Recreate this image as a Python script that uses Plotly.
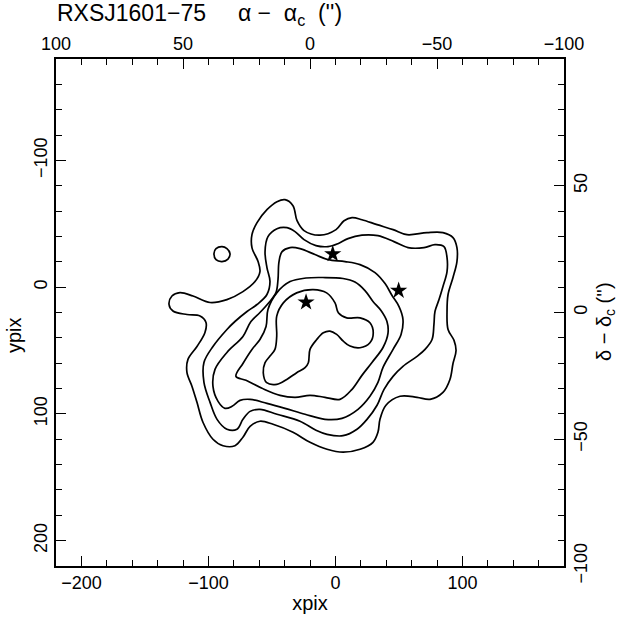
import plotly.graph_objects as go

# contour levels, in detector pixels (xpix, ypix)
level1_x = [-39.7, -33.4, -30.2, -24.7, -12.1, 0.5, 6.8, 13.1, 20.9, 32.8, 45.4, 56.4, 72.1, 84.7,
            92.6, 95.7, 95.7, 92.6, 88.7, 87.9, 88.7, 93.4, 95.0, 92.6, 90.2, 84.7, 74.5, 64.3,
            50.9, 39.8, 35.1, 33.5, 29.6, 19.4, 6.0, -6.6, -20.0, -33.4, -49.1, -59.4, -67.2,
            -72.8, -79.1, -88.5, -96.4, -104.3, -109.0, -112.9, -116.9, -116.1, -109.0, -102.7,
            -101.9, -106.6, -116.9, -127.9, -131.0, -128.7, -122.4, -112.1, -98.7, -85.4, -72.8,
            -63.3, -59.4, -60.9, -65.7, -65.7, -61.7, -53.9, -46.0]
level1_y = [-69.0, -64.3, -52.4, -44.6, -41.0, -45.4, -52.4, -54.8, -53.2, -49.3, -45.4, -41.4,
            -43.0, -43.0, -39.1, -31.2, -20.2, -7.6, 5.8, 19.2, 33.4, 42.0, 49.9, 60.2, 72.8, 83.0,
            88.5, 86.9, 86.1, 93.2, 104.3, 114.5, 122.4, 127.9, 130.2, 127.9, 122.4, 114.5, 108.2,
            105.8, 109.8, 118.4, 125.1, 125.1, 120.0, 106.6, 90.9, 78.3, 67.2, 57.0, 46.8, 35.7,
            27.9, 22.8, 21.6, 18.8, 13.7, 7.0, 4.3, 7.0, 12.1, 9.8, 3.5, -4.4, -12.3, -20.2,
            -31.2, -41.4, -50.9, -61.1, -67.4]

island_x = [-95.6, -94.0, -89.3, -85.4, -83.0, -84.6, -89.3, -94.0]
island_y = [-26.5, -30.4, -32.0, -30.4, -26.5, -22.1, -20.2, -21.7]

level2_x = [-55.4, -53.1, -46.0, -38.1, -31.8, -24.7, -15.3, -5.8, 2.0, 9.9, 20.9, 33.5, 46.1,
            57.2, 69.8, 78.4, 85.5, 87.9, 87.9, 84.7, 81.6, 78.4, 77.6, 76.1, 70.6, 64.3, 53.2,
            45.4, 38.3, 32.8, 24.9, 17.0, 6.0, -6.6, -15.3, -27.9, -46.0, -59.4, -67.2, -72.8,
            -77.5, -85.4, -93.2, -98.7, -103.5, -103.5, -96.4, -85.4, -79.1, -69.6, -61.7,
            -53.9, -51.5, -53.9]
level2_y = [-28.0, -39.8, -46.1, -46.9, -43.8, -37.5, -32.8, -32.0, -34.3, -38.3, -41.0, -40.6,
            -35.9, -31.2, -31.2, -33.5, -32.0, -23.3, -12.3, -0.5, 9.8, 19.2, 29.4, 41.3, 49.1,
            54.6, 62.5, 70.4, 80.6, 93.2, 104.3, 112.1, 117.2, 116.1, 112.9, 105.8, 100.3, 96.4,
            98.0, 104.3, 112.1, 112.1, 104.3, 90.9, 75.1, 59.4, 46.8, 33.4, 27.1, 19.2, 13.7,
            5.8, -4.4, -15.4]

level3_x = [-44.4, -42.0, -35.7, -27.9, -16.1, -5.8, 7.6, 19.4, 31.2, 39.1, 44.6, 50.1, 53.2,
            51.7, 45.4, 37.5, 33.5, 27.2, 17.8, 5.2, -8.2, -23.9, -39.7, -53.9, -67.2, -75.1,
            -81.4, -86.9, -92.4, -96.4, -94.8, -85.4, -72.8, -66.5, -59.4, -52.3, -46.8, -45.2]
level3_y = [-20.2, -28.0, -31.2, -30.4, -25.7, -21.7, -20.2, -17.8, -11.5, -2.8, 6.6, 15.3, 25.5,
            37.3, 49.1, 63.3, 75.1, 86.1, 96.4, 103.5, 104.3, 100.3, 95.6, 91.7, 88.5, 89.3, 94.0,
            95.6, 90.1, 78.3, 64.9, 51.5, 38.9, 27.1, 20.0, 12.1, 4.3, -6.0]

level4_x = [-46.2, -35.7, -23.1, -9.8, 6.0, 15.4, 23.3, 29.6, 35.9, 40.6, 41.4, 37.5, 28.8, 20.9,
            13.1, 3.6, -8.2, -20.0, -31.8, -43.6, -57.8, -70.4, -78.3, -72.8, -65.7, -59.4,
            -54.6, -53.1]
level4_y = [4.5, -4.4, -7.2, -7.6, -6.8, -4.0, 2.7, 11.3, 18.4, 27.1, 36.5, 47.6, 59.4, 69.6,
            80.6, 88.5, 86.9, 85.4, 86.9, 85.4, 79.8, 73.5, 70.4, 60.2, 49.1, 41.3, 31.0, 17.6]

level5_x = [-46.2, -41.0, -30.5, -17.4, -6.9, -0.3, 2.3, 8.9, 19.4, 27.2, 29.8, 27.2, 19.4, 11.5,
            6.2, 1.0, -4.3, -9.5, -14.7, -20.0, -21.3, -23.9, -30.5, -38.3, -46.2, -54.1, -56.8,
            -55.4, -51.5, -47.6, -46.2]
level5_y = [22.9, 12.4, 4.5, 1.9, 4.5, 12.4, 20.2, 24.2, 24.2, 28.1, 36.0, 43.9, 47.8, 46.5,
            42.6, 37.3, 34.7, 36.0, 41.3, 49.1, 59.6, 63.5, 67.5, 72.8, 76.7, 75.4, 67.5, 59.6,
            54.4, 49.1, 38.7]

# bright galaxies marked with stars
star_x = [-2.1, -23.1, 49.8]
star_y = [-26.2, 11.9, 2.7]

xpix_range = [-220, 180]
ypix_range = [220, -180]
ra_range = [100, -100]
dec_range = [-100, 100]
xpix_ticks = [-200, -100, 0, 100]
ypix_ticks = [-100, 0, 100, 200]
ra_ticks = [100, 50, 0, -50, -100]
dec_ticks = [50, 0, -50, -100]

FONT = 'Liberation Sans'
SP = '\u00a0'

contours = [(level1_x, level1_y), (island_x, island_y), (level2_x, level2_y),
            (level3_x, level3_y), (level4_x, level4_y), (level5_x, level5_y)]

fig = go.Figure()
for xs, ys in contours:
    fig.add_trace(go.Scatter(
        x=xs + xs[:1], y=ys + ys[:1], mode='lines',
        line=dict(color='black', width=1.7, shape='spline', smoothing=1.0),
        hoverinfo='skip', showlegend=False
    ))

fig.add_trace(go.Scatter(
    x=star_x, y=star_y, mode='markers',
    marker=dict(symbol='star', size=13, color='black', line=dict(width=0)),
    showlegend=False
))

# invisible trace to hold the sky-offset axes
fig.add_trace(go.Scatter(x=[0], y=[0], xaxis='x2', yaxis='y2', mode='markers',
                         marker=dict(opacity=0), hoverinfo='skip', showlegend=False))


def axis(**kw):
    base = dict(
        showline=True, linecolor='black', linewidth=1.6, showgrid=False, zeroline=False,
        ticks='inside', ticklen=10, tickwidth=1.2, tickcolor='black',
        tickfont=dict(family=FONT, size=18, color='black'),
        automargin=False,
    )
    base.update(kw)
    return base


def minor(step):
    return dict(dtick=step, ticks='inside', ticklen=6, tickcolor='black', tickwidth=1.2)


title_text = ('RXSJ1601\u221275' + SP * 5 + '\u03b1 \u2212' + SP * 2 + '\u03b1<sub>c</sub>'
              + SP * 2 + "('')")

fig.update_layout(
    width=621, height=619,
    margin=dict(l=56, r=57, t=59, b=53),
    paper_bgcolor='white', plot_bgcolor='white',
    font=dict(family=FONT, size=18, color='black'),
    title=dict(text=title_text, x=57 / 621, xanchor='left', y=1 - 13 / 619, yanchor='middle',
               font=dict(family=FONT, size=23, color='black')),
    xaxis=axis(range=xpix_range, tickvals=xpix_ticks, minor=minor(20),
               title=dict(text='xpix', standoff=4, font=dict(size=20))),
    yaxis=axis(range=ypix_range, tickvals=ypix_ticks, tickangle=-90, minor=minor(20)),
    xaxis2=axis(range=ra_range, overlaying='x', side='top', tickvals=ra_ticks, minor=minor(10)),
    yaxis2=axis(range=dec_range, overlaying='y', side='right', tickvals=dec_ticks, tickangle=-90,
                minor=minor(10)),
    annotations=[
        dict(text='ypix', xref='paper', yref='paper', x=-42 / 508, y=(566 - 335) / 507,
             xanchor='center', yanchor='middle', textangle=-90, showarrow=False,
             font=dict(family=FONT, size=20, color='black')),
        dict(text='\u03b4 \u2212 \u03b4<sub>c</sub> (\'\')', xref='paper', yref='paper',
             x=(605 - 56) / 508, y=(566 - 322) / 507, xanchor='center', yanchor='middle',
             textangle=-90, showarrow=False, font=dict(family=FONT, size=20, color='black')),
    ],
)

fig.write_html("out.html", config={'displayModeBar': False},
               post_script="document.body.style.margin='0';")
